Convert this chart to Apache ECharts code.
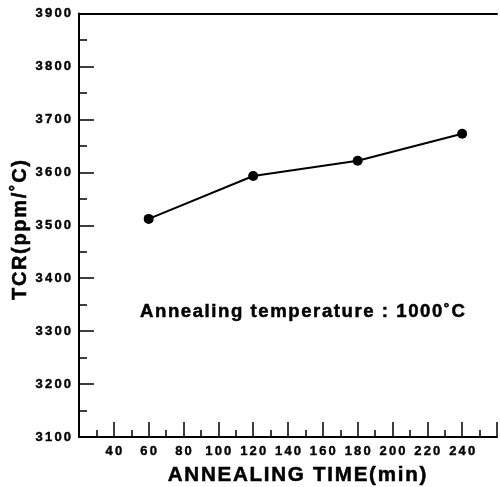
<!DOCTYPE html>
<html>
<head>
<meta charset="utf-8">
<script src="https://cdn.jsdelivr.net/npm/echarts@6/dist/echarts.min.js"></script>
<style>html,body{margin:0;padding:0;background:#fff}#c{width:500px;height:487px}</style>
</head>
<body>
<div id="c"></div>
<script>
const annealingTime = [60, 120, 180, 240];
const tcrValues = [3512, 3593, 3622, 3673];
const xTickLabels = [40, 60, 80, 100, 120, 140, 160, 180, 200, 220, 240];
const yTickLabels = [3100, 3200, 3300, 3400, 3500, 3600, 3700, 3800, 3900];
const xTitle = 'ANNEALING TIME(min)';
const yTitle = 'TCR(ppm/˚C)';
const note = 'Annealing temperature : 1000˚C';

const spaced = (s, sp) => String(s).split('').join(sp);
const HAIR = '\u200A', SIX = '\u2006';
const FONT = '"Liberation Sans", Arial, sans-serif';

const chart = echarts.init(document.getElementById('c'), null, {renderer: 'canvas'});
const labelStyle = {
  color: '#000', fontFamily: FONT, fontWeight: 'bold', fontSize: 13,
  textBorderColor: '#000', textBorderWidth: 0.4
};
chart.setOption({
  animation: false,
  backgroundColor: '#fff',
  grid: {left: 79, right: -10, top: 13.5, bottom: 50, containLabel: false},
  xAxis: [{
    type: 'value', min: 20, max: 260, interval: 20,
    axisLine: {show: true, lineStyle: {color: '#000', width: 2}},
    axisTick: {show: true, inside: true, length: 15, lineStyle: {color: '#000', width: 1.5}},
    minorTick: {show: true, splitNumber: 2, length: 7, lineStyle: {color: '#000', width: 1.5}},
    splitLine: {show: false},
    axisLabel: Object.assign({margin: 8,
      formatter: v => xTickLabels.indexOf(v) >= 0 ? spaced(v, SIX) : ''}, labelStyle)
  }, {
    type: 'value', position: 'top', min: 20, max: 260,
    axisLine: {show: true, lineStyle: {color: '#000', width: 2}},
    axisTick: {show: false}, axisLabel: {show: false}, splitLine: {show: false}
  }],
  yAxis: {
    type: 'value', min: 3100, max: 3900, interval: 100,
    axisLine: {show: true, lineStyle: {color: '#000', width: 2}},
    axisTick: {show: true, inside: true, length: 15, lineStyle: {color: '#000', width: 1.5}},
    minorTick: {show: true, splitNumber: 2, length: 8, lineStyle: {color: '#000', width: 1.5}},
    splitLine: {show: false},
    axisLabel: Object.assign({margin: 8,
      formatter: v => yTickLabels.indexOf(v) >= 0 ? spaced(v, SIX) : ''}, labelStyle)
  },
  series: [{
    type: 'line',
    data: annealingTime.map((t, i) => [t, tcrValues[i]]),
    symbol: 'circle', symbolSize: 10,
    lineStyle: {color: '#000', width: 2},
    itemStyle: {color: '#000'}
  }],
  graphic: [
    {type: 'text', x: 140, y: 312, style: {text: spaced(note, HAIR), font: 'bold 18.6px ' + FONT, fill: '#000', stroke: '#000', lineWidth: 0.5, verticalAlign: 'middle'}},
    {type: 'text', x: 297, y: 475, style: {text: spaced(xTitle, HAIR), font: 'bold 20.6px ' + FONT, fill: '#000', stroke: '#000', lineWidth: 0.5, align: 'center', verticalAlign: 'middle'}},
    {type: 'text', x: 20, y: 230, rotation: Math.PI / 2, style: {text: spaced(yTitle, HAIR), font: 'bold 20px ' + FONT, fill: '#000', stroke: '#000', lineWidth: 0.5, align: 'center', verticalAlign: 'middle'}}
  ]
});
</script>
</body>
</html>
